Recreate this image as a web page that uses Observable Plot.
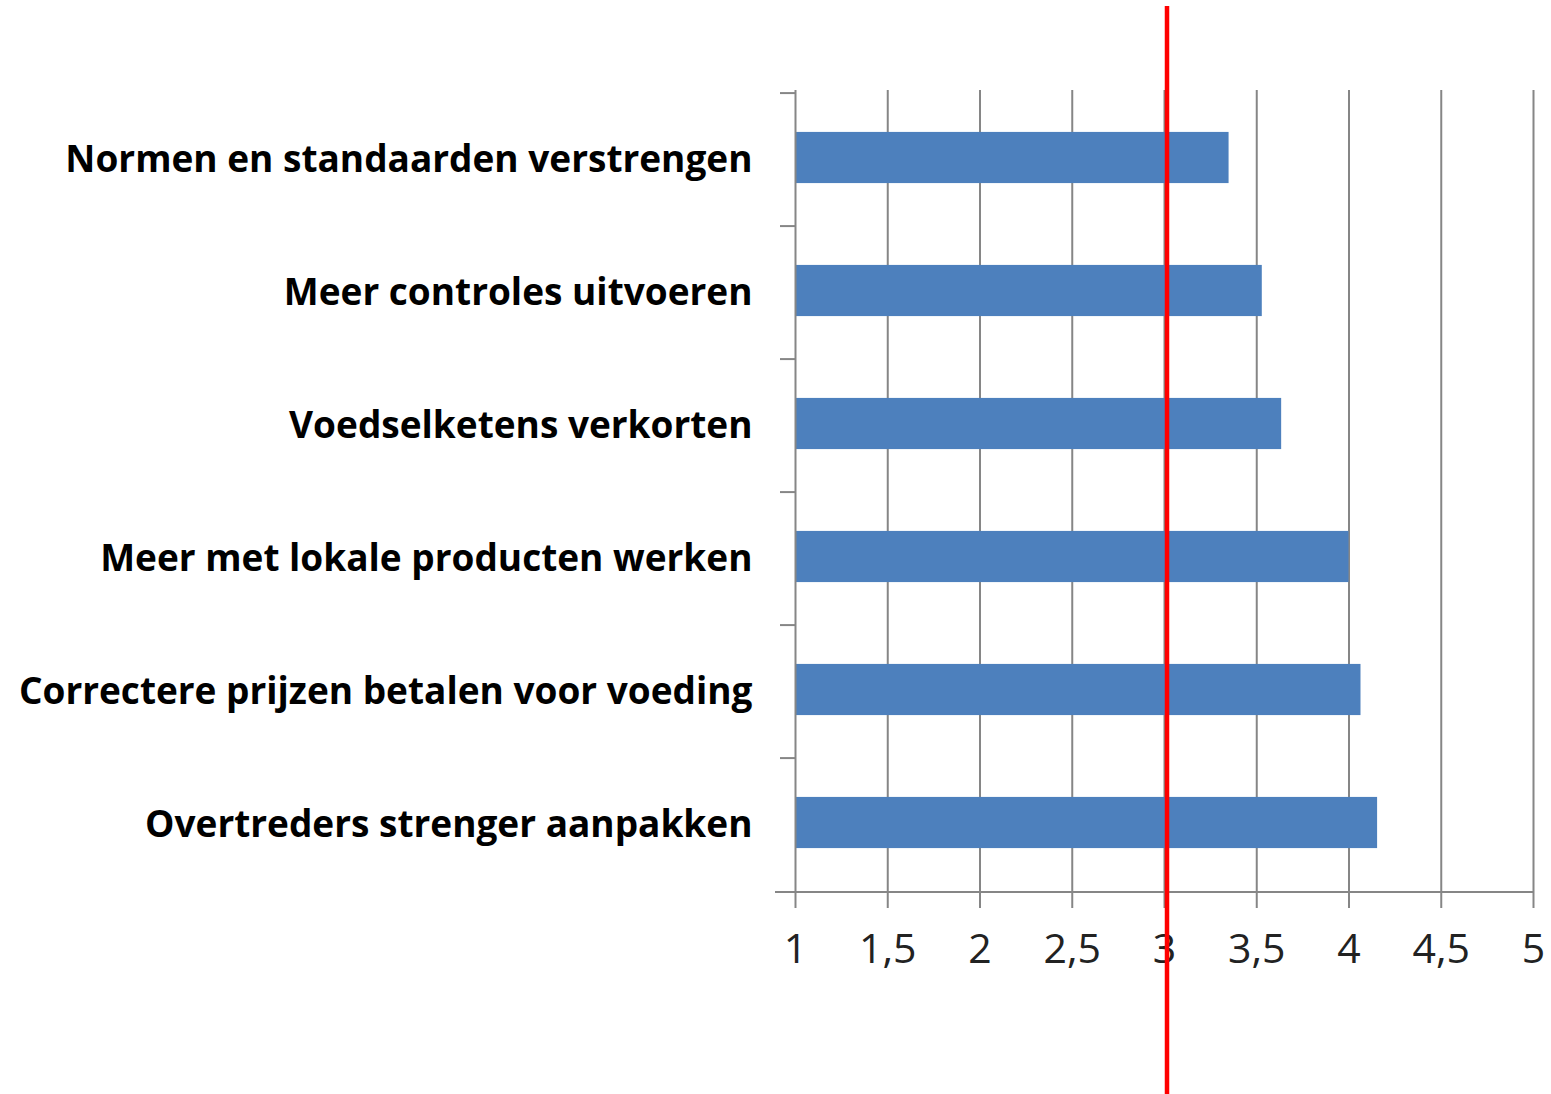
<!DOCTYPE html>
<html>
<head>
<meta charset="utf-8">
<script src="https://cdn.jsdelivr.net/npm/d3@7"></script>
<script src="https://cdn.jsdelivr.net/npm/@observablehq/plot@0.6"></script>
<style>
  html, body { margin: 0; padding: 0; background: #ffffff; }
  #chart svg { display: block; }
</style>
</head>
<body>
<div id="chart"></div>
<script>
const categories = [
  "Normen en standaarden verstrengen",
  "Meer controles uitvoeren",
  "Voedselketens verkorten",
  "Meer met lokale producten werken",
  "Correctere prijzen betalen voor voeding",
  "Overtreders strenger aanpakken"
];
const values = [3.35, 3.53, 3.635, 4.0, 4.065, 4.155];
const xTicks = [1, 1.5, 2, 2.5, 3, 3.5, 4, 4.5, 5];
const gridTicks = [1.5, 2, 2.5, 3, 3.5, 4, 4.5, 5];
const referenceValue = [3];

const data = categories.map((c, i) => ({category: c, value: values[i]}));

const W = 1551, H = 1094;
const mTop = 90, mBottom = 201, mLeft = 795, mRight = 18;
const band = (H - mTop - mBottom) / categories.length;
const barH = 52;
const inset = (band - barH) / 2;
const gray = "#868686";

const chart = Plot.plot({
  width: W,
  height: H,
  marginTop: mTop,
  marginBottom: mBottom,
  marginLeft: mLeft,
  marginRight: mRight,
  style: {background: "#ffffff", overflow: "visible"},
  x: {domain: [1, 5], ticks: xTicks},
  y: {domain: categories, padding: 0},
  marks: [
    Plot.ruleX(gridTicks, {stroke: gray, strokeWidth: 2}),
    Plot.barX(data, {y: "category", x1: 1, x2: "value", fill: "#4d80bd", insetTop: inset - 2, insetBottom: inset + 2}),
    Plot.ruleX([1], {stroke: gray, strokeWidth: 2}),
    Plot.ruleY(categories, {y: d => d, x1: 1 - 15 / 184.5, x2: 1, dy: -band / 2, stroke: gray, strokeWidth: 2}),
    Plot.ruleY([categories[categories.length - 1]], {y: d => d, x1: 1 - 20 / 184.5, x2: 5, dy: band / 2, stroke: gray, strokeWidth: 2}),
    Plot.axisX({
      ticks: xTicks,
      tickSize: 15,
      tickPadding: 25,
      stroke: gray,
      strokeWidth: 2,
      tickFormat: d => String(d).replace(".", ","),
      fontSize: 41,
      fontFamily: "Open Sans",
      fill: "#222",
      label: null
    }),
    Plot.axisY({
      tickSize: 0,
      tickPadding: 43,
      fontSize: 37,
      fontWeight: "bold",
      fontFamily: "Open Sans",
      fill: "#000",
      label: null
    }),
    Plot.ruleX(referenceValue, {stroke: "#ff0000", strokeWidth: 4.5, dx: 2.5, insetTop: -(mTop - 6), insetBottom: -mBottom})
  ]
});

document.getElementById("chart").appendChild(chart);
</script>
</body>
</html>
